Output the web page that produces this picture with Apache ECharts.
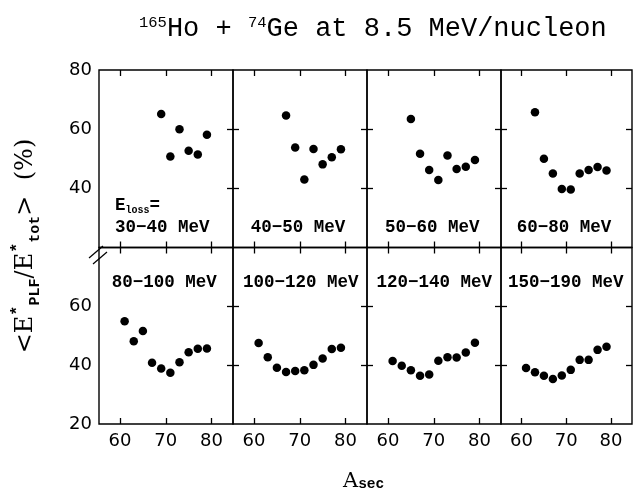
<!DOCTYPE html>
<html>
<head>
<meta charset="utf-8">
<script src="https://cdn.jsdelivr.net/npm/echarts@6/dist/echarts.min.js"></script>
<style>html,body{margin:0;padding:0;background:#fff;}#c{width:633px;height:495px;}</style>
</head>
<body>
<div id="c"></div>
<script>
// ---- data ----
const panelLabels = ['30\u221240 MeV', '40\u221250 MeV', '50\u221260 MeV', '60\u221280 MeV',
                     '80\u2212100 MeV', '100\u2212120 MeV', '120\u2212140 MeV', '150\u2212190 MeV'];
const A_30_40 = [69, 71, 73, 75, 77, 79];
const R_30_40 = [65.1, 50.8, 60.0, 52.7, 51.4, 58.1];
const A_40_50 = [67, 69, 71, 73, 75, 77, 79];
const R_40_50 = [64.6, 53.8, 43.0, 53.3, 48.1, 50.5, 53.2];
const A_50_60 = [65, 67, 69, 71, 73, 75, 77, 79];
const R_50_60 = [63.4, 51.7, 46.2, 42.8, 51.1, 46.5, 47.3, 49.6];
const A_60_80 = [63, 65, 67, 69, 71, 73, 75, 77, 79];
const R_60_80 = [65.7, 50.0, 45.0, 39.8, 39.6, 45.0, 46.2, 47.2, 46.0];
const A_80_100 = [61, 63, 65, 67, 69, 71, 73, 75, 77, 79];
const R_80_100 = [54.9, 48.1, 51.6, 40.8, 38.9, 37.4, 41.0, 44.4, 45.6, 45.7];
const A_100_120 = [61, 63, 65, 67, 69, 71, 73, 75, 77, 79];
const R_100_120 = [47.5, 42.7, 39.1, 37.7, 38.0, 38.3, 40.1, 42.3, 45.5, 45.9];
const A_120_140 = [61, 63, 65, 67, 69, 71, 73, 75, 77, 79];
const R_120_140 = [41.4, 39.8, 38.3, 36.4, 36.8, 41.5, 42.7, 42.6, 44.3, 47.6];
const A_150_190 = [61, 63, 65, 67, 69, 71, 73, 75, 77, 79];
const R_150_190 = [39.0, 37.6, 36.4, 35.3, 36.5, 38.4, 41.8, 41.8, 45.2, 46.3];
const xTicks = [60, 70, 80];
const yTicksTop = [40, 60, 80];
const yTicksBottom = [20, 40, 60];
const yInnerTicks = [40, 60];

const panelX = [A_30_40, A_40_50, A_50_60, A_60_80, A_80_100, A_100_120, A_120_140, A_150_190];
const panelY = [R_30_40, R_40_50, R_50_60, R_60_80, R_80_100, R_100_120, R_120_140, R_150_190];

// ---- layout ----
const colLeft = [99, 233, 367, 501];
const colRight = [233, 367, 501, 632];
const rowTop = [70, 247.5];
const rowBottom = [247.5, 424];
const XMIN = 55.4, XMAX = 84.7, YMIN = 20, YMAX = 80;
const labelOffsets = [[16, 228], [17.7, 228], [18, 228], [15.7, 228],
                      [12.7, 283], [10, 283], [9.5, 283], [7, 283]];

const grids = [], xAxes = [], yAxes = [], series = [], graphics = [];
const tickStyle = {show: true, inside: true, length: 6, lineStyle: {color: '#000', width: 1.3}};
const lblFont = {color: '#000', fontFamily: 'DejaVu Sans', fontSize: 18};

for (let i = 0; i < 8; i++) {
  const r = Math.floor(i / 4), c = i % 4;
  grids.push({left: colLeft[c], top: rowTop[r], width: colRight[c] - colLeft[c],
              height: rowBottom[r] - rowTop[r], show: true, borderColor: '#000', borderWidth: 1.4,
              backgroundColor: 'transparent', containLabel: false});
  xAxes.push({gridIndex: i, type: 'value', min: XMIN, max: XMAX, position: 'bottom',
              axisLine: {show: false}, splitLine: {show: false},
              axisTick: Object.assign({customValues: xTicks}, tickStyle),
              axisLabel: Object.assign({show: r === 1, customValues: xTicks, margin: 8}, lblFont)});
  xAxes.push({gridIndex: i, type: 'value', min: XMIN, max: XMAX, position: 'top',
              axisLine: {show: false}, splitLine: {show: false},
              axisTick: Object.assign({customValues: xTicks}, tickStyle),
              axisLabel: {show: false}});
  yAxes.push({gridIndex: i, type: 'value', min: YMIN, max: YMAX, position: 'left',
              axisLine: {show: false}, splitLine: {show: false},
              axisTick: Object.assign({}, tickStyle, {show: c !== 0, customValues: yInnerTicks}),
              axisLabel: Object.assign({show: c === 0, customValues: r === 0 ? yTicksTop : yTicksBottom, margin: 7}, lblFont)});
  yAxes.push({gridIndex: i, type: 'value', min: YMIN, max: YMAX, position: 'right',
              axisLine: {show: false}, splitLine: {show: false},
              axisTick: Object.assign({customValues: yInnerTicks}, tickStyle),
              axisLabel: {show: false}});
  series.push({type: 'scatter', xAxisIndex: 2 * i, yAxisIndex: 2 * i,
               data: panelX[i].map((a, k) => [a, panelY[i][k]]),
               symbol: 'circle', symbolSize: 8.5, itemStyle: {color: '#000', opacity: 1}, silent: true});
  graphics.push({type: 'text', left: colLeft[c] + labelOffsets[i][0], top: labelOffsets[i][1] - 9,
                 style: {text: panelLabels[i], font: 'bold 17.5px "Liberation Mono"', fill: '#000'}});
}

// E_loss= label
graphics.push({type: 'text', left: 115, top: 197,
  style: {text: '{e|E}{s|loss}{e|=}', fill: '#000',
    rich: {e: {font: 'bold 17.5px "Liberation Mono"', fill: '#000', verticalAlign: 'bottom'},
           s: {font: 'bold 10px "Liberation Mono"', fill: '#000', verticalAlign: 'bottom'}}}});

// title
graphics.push({type: 'text', left: 139, top: 15,
  style: {text: '{s|165}{m|Ho + }{s|74}{m|Ge at 8.5 MeV/nucleon}', fill: '#000',
    rich: {m: {font: '27px "Liberation Mono"', fill: '#000', verticalAlign: 'bottom'},
           s: {font: '15.5px "Liberation Mono"', fill: '#000', verticalAlign: 'top'}}}});

// y axis title (rotated)
graphics.push({type: 'text', x: 26, y: 246, rotation: Math.PI / 2,
  style: {text: '{m|<E}{p|*}{b|PLF}{m|/E}{p|*}{b|tot}{m|>  (%)}', fill: '#000', align: 'center', verticalAlign: 'middle',
    rich: {m: {font: '24px "DejaVu Serif"', fill: '#000', lineHeight: 34, verticalAlign: 'middle'},
           p: {font: 'bold 17px "Liberation Mono"', fill: '#000', verticalAlign: 'top'},
           b: {font: 'bold 15px "Liberation Mono"', fill: '#000', verticalAlign: 'bottom'}}}});

// x axis title
graphics.push({type: 'text', left: 343, top: 471,
  style: {text: '{a|A}{s|sec}', fill: '#000',
    rich: {a: {font: '21px "DejaVu Serif"', fill: '#000', verticalAlign: 'top'},
           s: {font: 'bold 14.5px "Liberation Mono"', fill: '#000', verticalAlign: 'bottom'}}}});

// axis break marks
graphics.push({type: 'line', shape: {x1: 89, y1: 258, x2: 103, y2: 246}, style: {stroke: '#000', lineWidth: 1.2}});
graphics.push({type: 'line', shape: {x1: 93, y1: 264, x2: 107, y2: 252}, style: {stroke: '#000', lineWidth: 1.2}});

const chart = echarts.init(document.getElementById('c'), null, {renderer: 'canvas'});
chart.setOption({
  animation: false,
  backgroundColor: '#fff',
  grid: grids, xAxis: xAxes, yAxis: yAxes, series: series, graphic: graphics
});
</script>
</body>
</html>
